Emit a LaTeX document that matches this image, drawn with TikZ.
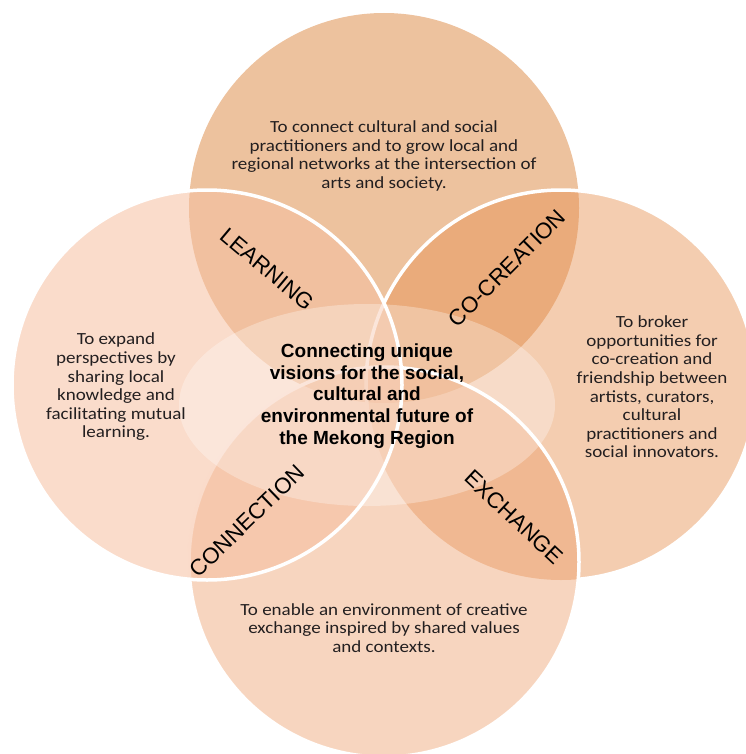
\documentclass[tikz,border=0pt]{standalone}
\usepackage{fontspec}
\setmainfont{Carlito}[FakeStretch=1.12]
\newfontfamily\arialf{Liberation Sans}
\begin{document}
\begin{tikzpicture}[x=1pt,y=-1pt,
  body/.style={font=\fontsize{17}{18.6}\selectfont, text=txtc, align=center, inner sep=0pt},
  centre/.style={font=\arialf\bfseries\fontsize{19}{21.6}\selectfont, text=black, align=center, inner sep=0pt},
  lab/.style={font=\arialf\fontsize{22.3}{24}\selectfont, text=black, inner sep=0pt},
  wline/.style={draw=white, line width=3.5pt}]
\definecolor{colT}{RGB}{237,194,158}
\definecolor{colR}{RGB}{231,146,83}
\definecolor{colB}{RGB}{237,160,110}
\definecolor{colL}{RGB}{246,191,160}
\definecolor{txtc}{RGB}{35,31,32}
\useasboundingbox (0,0) rectangle (745,754);
\coordinate (cT) at (384,208);
\coordinate (cR) at (561,385);
\coordinate (cB) at (384,562);
\coordinate (cL) at (207,385);
\coordinate (cE) at (367,405);
% top circle
\fill[colT] (cT) circle (195pt);
% right circle
\fill[colR, fill opacity=0.46] (cR) circle (195pt);
\begin{scope}
  \clip (190,27) -- (675,717) -- (800,717) -- (800,-20) -- (190,-20) -- cycle;
  \draw[wline] (cR) circle (195pt);
\end{scope}
\begin{scope}
  \clip (cL) circle (195pt);
  \draw[wline] (cR) circle (195pt);
\end{scope}
% bottom circle
\fill[colB, fill opacity=0.44] (cB) circle (195pt);
\draw[wline] (cB) circle (195pt);
% left circle
\fill[colL, fill opacity=0.55] (cL) circle (195pt);
\draw[wline] (cL) circle (195pt);
% central ellipse
\fill[white, fill opacity=0.3] (cE) ellipse [x radius=188pt, y radius=101pt];
% texts
\node[body] (ttop) at (384,156) {To connect cultural and social\\practitioners and to grow local and\\regional networks at the intersection of\\arts and society.};
\node[body] (tleft) at (116,387) {To expand\\perspectives by\\sharing local\\knowledge and\\facilitating mutual\\learning.};
\node[body] (tright) at (652,387) {To broker\\opportunities for\\co-creation and\\friendship between\\artists, curators,\\cultural\\practitioners and\\social innovators.};
\node[body] (tbottom) at (384,628) {To enable an environment of creative\\exchange inspired by shared values\\and contexts.};
\node[centre] (tcentre) at (367,396) {Connecting unique\\visions for the social,\\cultural and\\environmental future of\\the Mekong Region};
\node[lab, rotate=-40] (learning) at (267,269) {LEARNING};
\node[lab, rotate=45] (cocreation) at (507,268) {CO-CREATION};
\node[lab, rotate=-43] (exchange) at (514,517) {EXCHANGE};
\node[lab, rotate=44] (connection) at (247,521) {CONNECTION};
\end{tikzpicture}
\end{document}
